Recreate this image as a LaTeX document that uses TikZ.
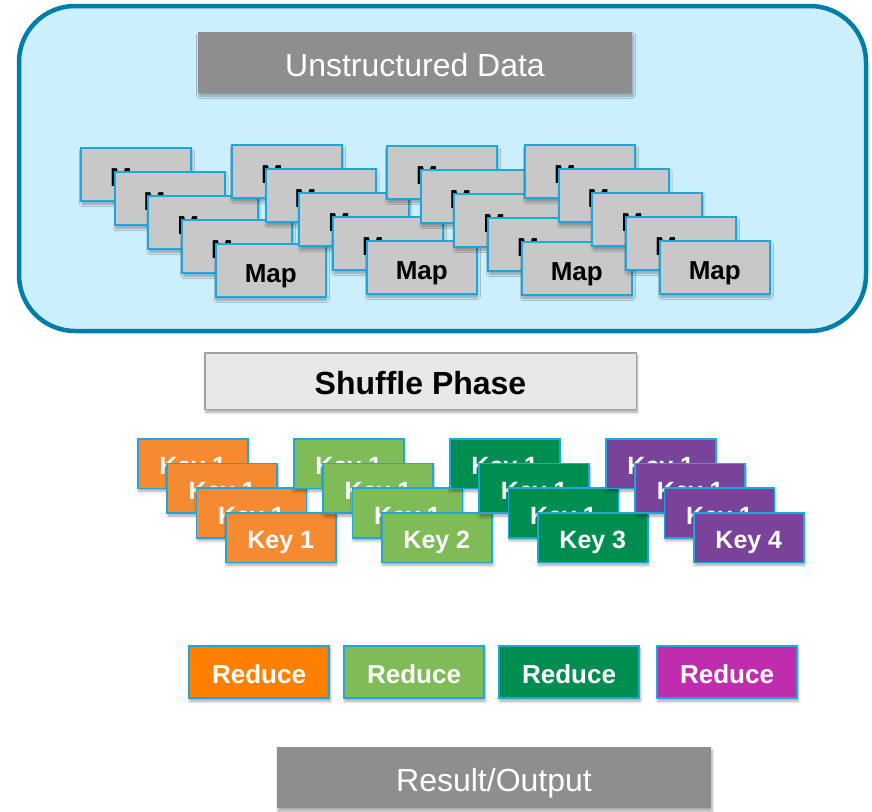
\documentclass[tikz,border=0pt]{standalone}
\usepackage{fontspec}
\setmainfont{Liberation Sans}
\usetikzlibrary{shadows.blur}

\definecolor{frameline}{RGB}{0,125,168}
\definecolor{framefill}{RGB}{204,239,253}
\definecolor{boxline}{RGB}{28,168,221}
\definecolor{darkgraybox}{RGB}{142,142,142}
\definecolor{mapgray}{RGB}{200,200,200}
\definecolor{shufflefill}{RGB}{232,232,232}
\definecolor{shuffleline}{RGB}{160,160,160}
\definecolor{keyorange}{RGB}{245,138,49}
\definecolor{keylgreen}{RGB}{127,187,87}
\definecolor{keydgreen}{RGB}{0,142,80}
\definecolor{keypurple}{RGB}{122,66,152}
\definecolor{redorange}{RGB}{255,127,0}
\definecolor{redmagenta}{RGB}{191,45,174}

\tikzset{
  softshadow/.style={blur shadow={shadow xshift=1pt, shadow yshift=-3pt,
      shadow blur steps=6, shadow blur radius=2.5pt, shadow opacity=35}},
  titlebox/.style={softshadow, fill=darkgraybox, text=white, anchor=north west,
      inner sep=0pt, outer sep=0pt, minimum width=434pt, minimum height=61pt,
      font=\fontsize{32}{36}\selectfont, text height=27pt, text depth=0pt},
  mapbox/.style={softshadow, draw=boxline, line width=2pt, fill=mapgray,
      anchor=north west, inner sep=0pt, minimum width=110pt, minimum height=53pt,
      font=\fontsize{26}{30}\selectfont\bfseries, text height=24pt, text depth=0pt},
  shufflebox/.style={softshadow, draw=shuffleline, line width=1.5pt, fill=shufflefill,
      anchor=north west, inner sep=0pt, minimum width=431.5pt, minimum height=56.5pt,
      font=\fontsize{32}{36}\selectfont\bfseries, text height=27pt, text depth=0pt},
  keybox/.style={softshadow, draw=boxline, line width=1.6pt, text=white,
      anchor=north west, inner sep=0pt, minimum width=110pt, minimum height=49.5pt,
      font=\fontsize{25}{30}\selectfont\bfseries, text height=22.5pt, text depth=0pt},
  reducebox/.style={softshadow, draw=boxline, line width=1.6pt, text=white,
      anchor=north west, inner sep=0pt, minimum width=140.4pt, minimum height=52.4pt,
      font=\fontsize{26}{30}\selectfont\bfseries, text height=22pt, text depth=0pt},
}

\begin{document}
\begin{tikzpicture}[x=1pt, y=-1pt]
\useasboundingbox (0,0) rectangle (872,811);

% map stage container
\draw[frameline, line width=4.5pt, fill=framefill, rounded corners=56pt]
  (19,6) rectangle (866,331);

\node[titlebox] (unstructured) at (198,32) {Unstructured Data};

% four stacks of map tasks
\foreach \g/\x/\y in {1/80/147, 2/231/144, 3/386/145, 4/524/144}{
  \foreach \i in {0,...,4}{
    \node[mapbox] (map-\g-\i) at ({\x+33.7*\i},{\y+24*\i}) {Map};
  }
}

\node[shufflebox] (shuffle) at (204,352) {Shuffle Phase};

% grouped keys after the shuffle
\foreach \g/\x/\col in {1/137/keyorange, 2/293/keylgreen, 3/449/keydgreen, 4/605/keypurple}{
  \foreach \i in {0,...,2}{
    \node[keybox, fill=\col] (key-\g-\i) at ({\x+29.3*\i},{438+24.7*\i}) {Key 1};
  }
  \node[keybox, fill=\col] (key-\g-3) at ({\x+88},512) {Key \g};
}

% reducers
\node[reducebox, fill=redorange]  (reduce-1) at (188,645) {Reduce};
\node[reducebox, fill=keylgreen]  (reduce-2) at (343,645) {Reduce};
\node[reducebox, fill=keydgreen]  (reduce-3) at (498,645) {Reduce};
\node[reducebox, fill=redmagenta] (reduce-4) at (656,645) {Reduce};

\node[titlebox] (result) at (277,747) {Result/Output};
\end{tikzpicture}
\end{document}
